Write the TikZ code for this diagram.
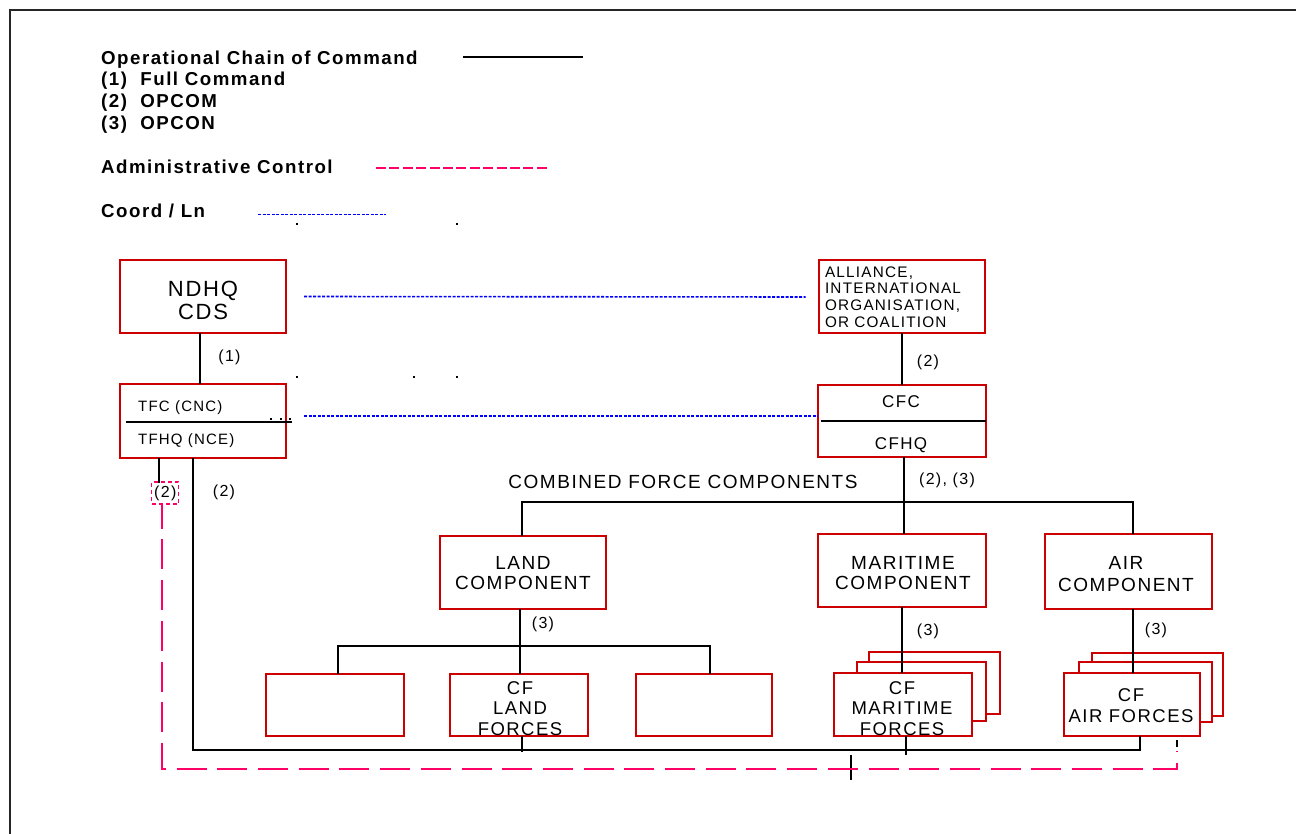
\documentclass[tikz,border=0pt]{standalone}
\usepackage{fontspec}
\setmainfont{Liberation Sans}[LetterSpace=8]
\usetikzlibrary{calc}
\definecolor{boxred}{RGB}{204,0,0}
\definecolor{adminpink}{RGB}{255,0,102}
\definecolor{coordblue}{RGB}{0,0,255}
\newcommand{\fs}[2]{\fontsize{#1}{#2}\selectfont}

\tikzset{
  unit/.style={draw=boxred, line width=2pt, fill=white, inner sep=0pt,
               outer sep=0pt, align=center},
  inbox/.style={inner sep=0pt, align=center},
  cmd/.style={line width=2pt, black},
  admin/.style={adminpink, line width=2.2pt, dash pattern=on 30pt off 10.7pt,
                dash phase=5.9pt},
  coord/.style={coordblue, line width=1.6pt, dash pattern=on 3pt off 1.5pt},
  legend/.style={anchor=base west, inner sep=0pt, font=\bfseries\fs{18.7}{20}},
  lbl/.style={inner sep=0pt, font=\fs{16}{18}},
  txt/.style={inner sep=0pt, font=\fs{15}{16}},
  speck/.style={fill=black},
}

\begin{document}
\begin{tikzpicture}[x=1pt, y=-1pt]
\useasboundingbox (0,0) rectangle (1296,834);

% page frame
\draw[line width=1.5pt, black!85] (1296,10) -- (10,10) -- (10,834);

% ---------------- legend ----------------
\node[legend] (lgocc)   at (101,64.3)  {Operational Chain of Command};
\node[legend] (lgfull)  at (101,85.8)  {(1)\ \ Full Command};
\node[legend] (lgopcom) at (101,107.8) {(2)\ \ OPCOM};
\node[legend] (lgopcon) at (101,130)   {(3)\ \ OPCON};
\node[legend] (lgadm)   at (101,173.3) {Administrative Control};
\node[legend] (lgcoord) at (101,217.7) {Coord / Ln};
\draw[line width=1.6pt] (463,57.3) -- (583,57.3);
\draw[adminpink, line width=1.8pt, dash pattern=on 10pt off 3.4pt] (376,168.3) -- (550,168.3);
\draw[coord, line width=1.4pt] (258,214.3) -- (386,214.3);

% ---------------- national side ----------------
\node[unit, minimum width=166pt, minimum height=73pt] (ndhq) at (203,296.5) {};
\node[inbox, font=\fs{22}{23}] (ndhqname) at (203,300.5) {NDHQ\\CDS};
\node[unit, minimum width=166pt, minimum height=74pt] (tfc) at (203,421) {};
\node[txt, anchor=base west] (tfcname) at (138,411) {TFC (CNC)};
\node[txt, anchor=base west] (tfhqname) at (138,444.3) {TFHQ (NCE)};

% ---------------- coalition side ----------------
\node[unit, minimum width=166pt, minimum height=73pt, align=left,
      text width=153pt, font=\fs{15.3}{16.8}]
  (alliance) at (901.5,297) {ALLIANCE,\\INTERNATIONAL\\ORGANISATION,\\OR COALITION};
\node[unit, minimum width=168pt, minimum height=72pt] (cfc) at (901.5,420.5) {};
\node[inner sep=0pt, anchor=base, font=\fs{17}{18}] (cfcname) at (901,407.7) {CFC};
\node[inner sep=0pt, anchor=base, font=\fs{17}{18}] (cfhqname) at (901,449.3) {CFHQ};

\node[inner sep=0pt, font=\fs{19}{20}] (cfcomp) at (683,481.5) {COMBINED FORCE COMPONENTS};

% ---------------- components ----------------
\node[unit, minimum width=166pt, minimum height=73pt] (land) at (523,572.5) {};
\node[inbox, font=\fs{19}{20}] (landname) at (523,573) {LAND\\COMPONENT};
\node[unit, minimum width=168pt, minimum height=73pt] (maritime) at (902,570.5) {};
\node[inbox, font=\fs{19}{20}] (maritimename) at (903,573) {MARITIME\\COMPONENT};
\node[unit, minimum width=167pt, minimum height=75pt] (air) at (1128.5,571.5) {};
\node[inbox, font=\fs{19}{22}] (airname) at (1126,574) {AIR\\COMPONENT};

% ---------------- forces ----------------
\node[unit, minimum width=138pt, minimum height=62pt] (blankl) at (335,704.5) {};
\node[unit, minimum width=138pt, minimum height=62pt] (landforces) at (519,704.5) {};
\node[inbox, font=\fs{18.5}{20.5}] (landforcesname) at (520,708.5) {CF\\LAND\\FORCES};
\node[unit, minimum width=136pt, minimum height=62pt] (blankr) at (704,704.5) {};

\node[unit, minimum width=131pt, minimum height=62pt] (mar3) at (934.5,683) {};
\node[unit, minimum width=129pt, minimum height=59pt] (mar2) at (921.5,691.5) {};
\node[unit, minimum width=138pt, minimum height=63pt] (marfront) at (903,704.5) {};
\node[inbox, font=\fs{18.5}{20.5}] (marfrontname) at (902,708.5) {CF\\MARITIME\\FORCES};

\node[unit, minimum width=131pt, minimum height=63pt] (air3) at (1157.5,684.5) {};
\node[unit, minimum width=133pt, minimum height=60pt] (air2) at (1145.5,692) {};
\node[unit, minimum width=136pt, minimum height=63pt] (airfront) at (1132,704.5) {};
\node[inbox, font=\fs{18.5}{20.5}] (airfrontname) at (1131,705.5) {CF\\AIR FORCES};

% ---------------- labels ----------------
\node[lbl] (l1)    at (229.5,357) {(1)};
\node[lbl] (l2a)   at (928,362)   {(2)};
\node[lbl] (l23)   at (947,480)   {(2), (3)};
\node[lbl] (l2b)   at (224,492)   {(2)};
\node[lbl] (l3l)   at (543,624.5) {(3)};
\node[lbl] (l3m)   at (928,631)   {(3)};
\node[lbl] (l3a)   at (1156,630)  {(3)};
\node[lbl, draw=adminpink, line width=1.2pt, dash pattern=on 4pt off 3pt,
      minimum width=27pt, minimum height=22pt] (adm2) at (165.3,493) {(2)};

% ---------------- command lines ----------------
\draw[cmd] ([xshift=-3pt]ndhq.south) -- ([xshift=-3pt]tfc.north);
\draw[cmd] ($(tfc.west)+(6,1)$) -- ($(tfc.east)+(6,1)$);
\draw[cmd] (alliance.south) -- (alliance.south |- cfc.north);
\draw[cmd] ($(cfc.west)+(3,0)$) -- (cfc.east);

\coordinate (cbus) at (904,502);
\draw[cmd] ([xshift=2.5pt]cfc.south) -- ([xshift=2pt]maritime.north);
\draw[cmd] ([xshift=-1.5pt]land.north) |- (cbus) -| ([xshift=4.5pt]air.north);

\coordinate (lbus) at (520,646);
\draw[cmd] ([xshift=-3pt]land.south) -- (lbus);
\draw[cmd] ([xshift=3pt]blankl.north) |- (lbus) -| ([xshift=6pt]blankr.north);
\draw[cmd] (lbus) -- (lbus |- landforces.north);

\draw[cmd] (maritime.south) -- (maritime.south |- marfront.north);
\draw[cmd] ([xshift=4.5pt]air.south) -- ([xshift=4.5pt]air.south |- airfront.north);

% national operational line down to the force elements
\coordinate (opbus) at (193,749.5);
\draw[cmd] ([xshift=-10pt]tfc.south) -- (opbus) -| ([xshift=8pt]airfront.south);
\draw[cmd] ([xshift=3pt]landforces.south) -- ++(0,16.5);
\draw[cmd] ([xshift=3pt]marfront.south) -- ++(0,19);
\draw[cmd] (851,755) -- (851,780);
\draw[cmd] ($(airfront.south)+(45,4)$) -- ++(0,7);
\draw[cmd] ([xshift=-44pt]tfc.south) -- ++(0,25);

% administrative control
\coordinate (admend) at (1177,751);
\draw[admin] ([xshift=-3.3pt]adm2.south) -- (162,769) -| (admend);

% coordination / liaison
\draw[coord] ($(ndhq.east)+(18,0)$) -- ($(alliance.west)+(-13,0)$);
\draw[coord] ($(tfc.east)+(18,-5)$) -- ($(cfc.west)+(0,-4.5)$);

% small specks
\foreach \sx/\sy in {297/224, 457/224, 297/377, 414/377, 457/377,
                     271/418.5, 280.7/418.5, 290/418.5}
  \fill[speck] (\sx-1,\sy-1) rectangle (\sx+1,\sy+1);
\end{tikzpicture}
\end{document}
